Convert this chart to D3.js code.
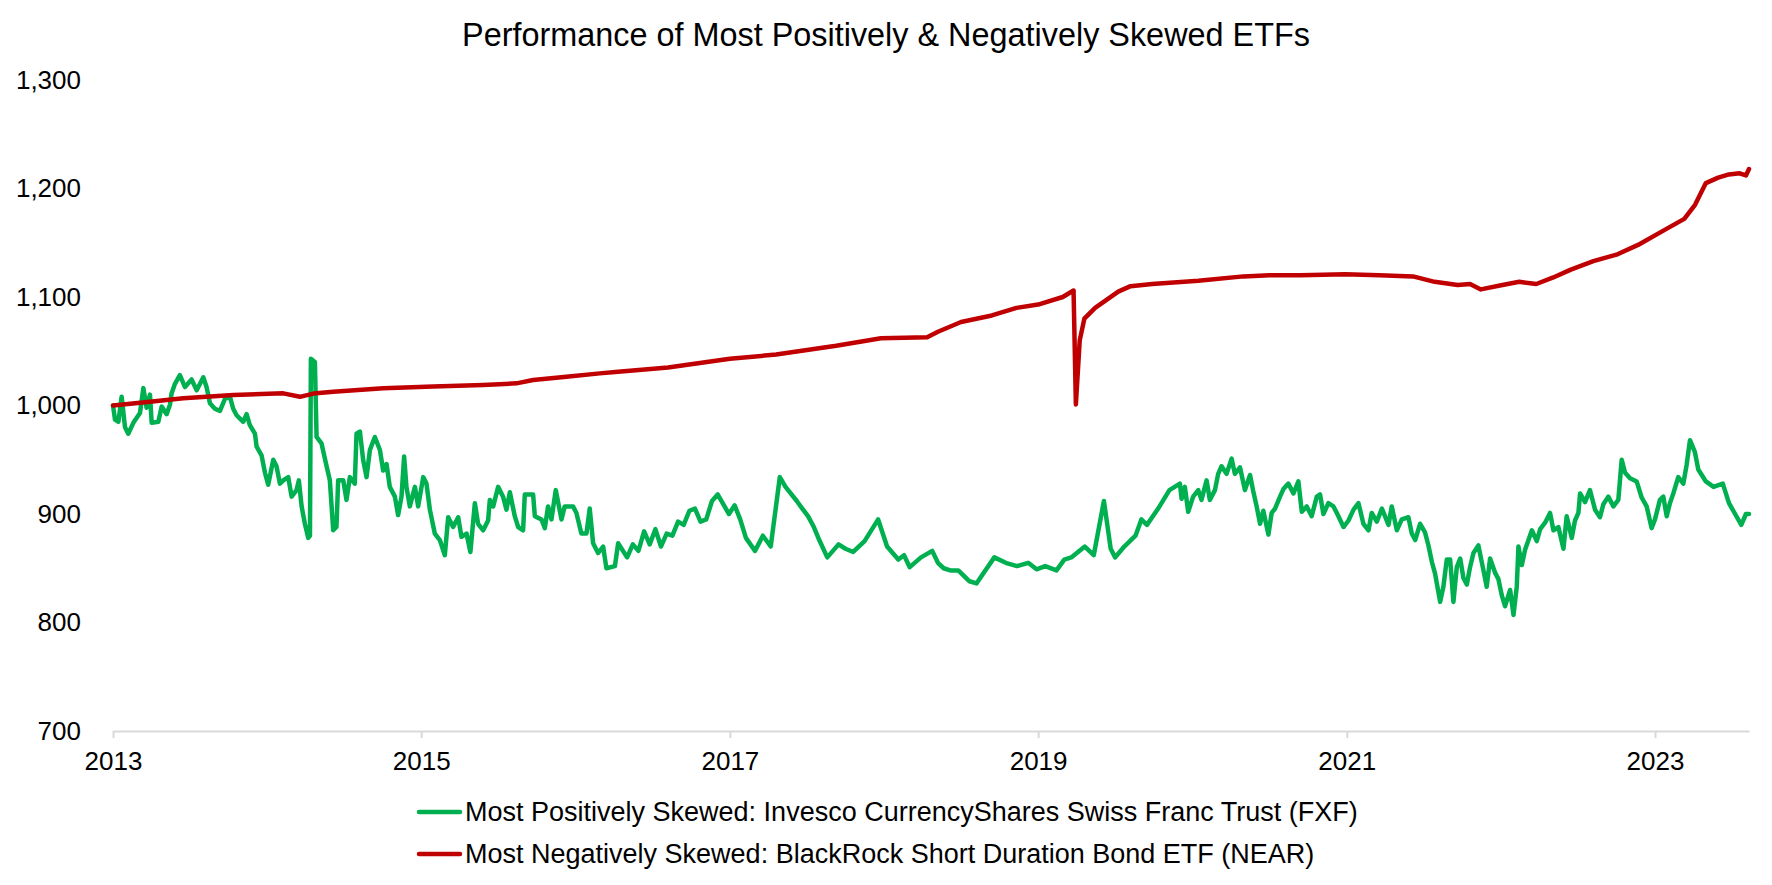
<!DOCTYPE html>
<html>
<head>
<meta charset="utf-8">
<script src="https://cdn.jsdelivr.net/npm/d3@7"></script>
<style>
  html, body { margin: 0; padding: 0; background: #fff; }
  svg { display: block; font-family: "Liberation Sans", Arial, sans-serif; }
</style>
</head>
<body>
<svg id="chart" width="1772" height="885"></svg>
<script>
// ---------- DATA ----------
const chartTitle = "Performance of Most Positively & Negatively Skewed ETFs";
const seriesNames = [
  "Most Positively Skewed: Invesco CurrencyShares Swiss Franc Trust (FXF)",
  "Most Negatively Skewed: BlackRock Short Duration Bond ETF (NEAR)"
];
const yTicks = [700, 800, 900, 1000, 1100, 1200, 1300];
const xTickYears = [2013, 2015, 2017, 2019, 2021, 2023];

// FXF: time in years since start of 2013, and value
const fxfTime = [
  0.000,0.013,0.035,0.056,0.078,0.099,0.132,0.175,0.197,0.218,0.240,0.251,0.294,0.316,0.348,0.370,0.380,0.402,0.434,0.467,
  0.510,0.543,0.586,0.607,0.629,0.661,0.694,0.726,0.759,0.780,0.802,0.845,0.867,0.888,0.921,0.932,0.964,0.986,1.007,1.040,
  1.061,1.083,1.105,1.137,1.159,1.191,1.206,1.224,1.245,1.267,1.278,1.284,1.310,1.321,1.353,1.386,1.407,1.429,1.450,1.461,
  1.494,1.515,1.537,1.569,1.580,1.602,1.623,1.645,1.667,1.699,1.732,1.753,1.775,1.796,1.829,1.850,1.872,1.889,1.904,1.926,
  1.959,1.980,2.013,2.034,2.056,2.088,2.121,2.153,2.175,2.207,2.240,2.261,2.294,2.319,2.348,2.369,2.402,2.434,2.445,2.467,
  2.499,2.531,2.553,2.575,2.607,2.629,2.661,2.672,2.726,2.737,2.780,2.802,2.823,2.845,2.873,2.910,2.931,2.985,3.007,3.039,
  3.072,3.093,3.115,3.147,3.180,3.201,3.256,3.277,
  3.335,3.372,3.408,3.445,3.481,3.518,3.554,3.591,3.628,3.665,3.701,3.738,3.774,3.810,3.847,3.884,3.921,3.994,4.031,4.067,
  4.104,4.163,4.214,4.265,4.324,4.361,4.434,4.470,4.507,4.545,4.580,4.632,4.705,4.750,4.800,4.874,4.962,5.020,5.093,5.130,
  5.167,5.240,5.313,5.350,5.387,5.430,5.482,5.555,5.600,5.643,5.716,5.790,5.863,5.936,5.990,6.046,6.119,6.170,6.215,6.303,
  6.361,6.427,6.471,6.500,6.559,6.632,6.670,6.706,6.779,6.852,
  6.920,6.931,6.952,6.974,7.006,7.039,7.060,7.093,7.114,7.147,7.168,7.190,7.222,7.255,7.276,7.309,7.341,7.374,7.395,7.417,
  7.439,7.460,7.493,7.514,7.536,7.568,7.590,7.622,7.655,7.687,7.709,7.741,7.773,7.806,7.827,7.849,7.881,7.914,7.946,7.979,
  8.011,8.044,8.076,8.108,8.141,8.162,8.195,8.228,8.271,8.292,8.325,8.357,8.400,8.422,8.444,8.476,8.508,8.530,8.552,8.573,
  8.606,8.627,8.649,8.671,8.692,8.714,8.736,8.757,8.779,8.800,8.822,8.854,8.887,8.908,8.930,8.962,8.984,9.006,9.027,9.060,
  9.082,9.103,9.114,9.136,9.157,9.179,9.201,9.233,9.255,9.287,9.319,9.341,9.373,9.406,9.427,9.460,9.481,9.503,9.514,9.546,
  9.578,9.611,9.643,9.665,9.697,9.730,9.762,9.784,9.806,9.838,9.881,9.914,9.946,9.978,10.000,10.032,10.054,10.076,10.097,10.119,
  10.151,10.184,10.205,10.227,10.259,10.281,10.33,10.38,10.44,10.48,10.52,10.56,10.59,10.61
];
const fxfValue = [
  1000,987,985,1008,980,974,984,993,1016,998,1010,984,985,999,992,1001,1011,1020,1028,1017,
  1024,1014,1026,1017,1002,997,995,1006,1008,997,991,985,992,982,974,962,954,938,927,950,
  944,928,931,934,916,922,931,907,891,878,880,1043,1040,971,965,944,931,885,888,931,
  931,913,934,928,974,976,950,934,959,971,959,940,946,925,916,899,916,953,925,907,
  925,907,934,928,904,882,876,862,897,888,897,879,882,865,910,891,885,894,913,907,
  925,916,904,920,898,888,885,918,918,898,895,887,907,895,922,895,907,907,901,882,
  882,905,873,864,870,850,852,873,
  860,872,866,884,872,886,870,882,880,893,890,903,905,893,895,912,918,900,908,895,
  878,866,880,870,934,925,912,905,898,888,876,860,872,868,865,875,895,870,858,862,
  851,860,866,855,850,848,848,838,836,845,860,855,852,855,849,852,848,858,860,870,
  862,912,868,860,870,880,895,890,905,922,
  928,914,925,902,916,922,913,931,913,922,937,944,937,951,937,943,922,936,921,907,
  891,903,881,901,905,916,923,928,919,930,902,907,898,916,918,900,910,907,898,888,
  894,904,910,891,885,901,893,905,890,907,885,895,897,882,876,891,883,871,856,845,
  819,833,858,858,819,851,859,841,835,851,864,871,848,833,859,846,840,825,815,830,
  807,833,870,853,867,876,885,875,886,892,901,885,888,868,898,878,894,901,919,911,
  922,904,897,909,916,907,913,950,938,933,930,915,907,887,895,913,916,898,910,919,
  934,928,945,968,957,941,930,925,928,910,900,890,900,900
];

// NEAR: time in years since start of 2013, and value
const nearTime = [
  0.000,0.240,0.456,0.780,1.105,1.213,1.300,1.429,1.753,2.077,2.402,2.618,2.726,2.942,3.158,3.277,
  3.600,4.000,4.300,4.690,4.980,5.280,5.350,5.500,5.700,5.860,6.000,6.160,6.230,6.245,6.270,6.300,
  6.370,6.520,6.600,6.740,7.040,7.330,7.500,7.700,7.990,8.210,8.430,8.570,8.720,8.800,8.870,9.010,
  9.120,9.230,9.340,9.450,9.600,9.750,9.890,10.040,10.190,10.260,10.330,10.410,10.480,10.550,10.590,10.610
];
const nearValue = [
  1000,1003.5,1006.6,1009.7,1011.2,1008,1011,1012.7,1015.8,1017.4,1018.9,1020.4,1023.5,1026.6,1029.6,1031,
  1035,1043,1047,1055,1062,1063,1068,1077,1083,1090,1093,1100,1106,1001,1060,1080,
  1090,1105,1110,1112,1115,1119,1120,1120,1121,1120,1119,1114,1111,1112,1107,1111,
  1114,1112,1118,1125,1133,1139,1148,1160,1172,1185,1205,1210,1213,1214,1212,1218
];

// ---------- HELPERS ----------
function toDate(t) {
  const yr = 2013 + Math.floor(t);
  const start = new Date(yr, 0, 1).getTime();
  const end = new Date(yr + 1, 0, 1).getTime();
  return new Date(start + (t - Math.floor(t)) * (end - start));
}

const fxf = fxfTime.map((t, i) => ({ date: toDate(t), value: fxfValue[i] }));
const near = nearTime.map((t, i) => ({ date: toDate(t), value: nearValue[i] }));

// ---------- CHART ----------
const svg = d3.select("#chart");
const plotLeft = 113, plotRight = 1749, plotTop = 80, plotBottom = 731;

const x = d3.scaleTime()
  .domain([new Date(2013, 0, 1), toDate(10.61)])
  .range([plotLeft, plotRight]);
const y = d3.scaleLinear()
  .domain([700, 1300])
  .range([plotBottom, plotTop]);

// title
svg.append("text")
  .attr("x", 886).attr("y", 46)
  .attr("text-anchor", "middle")
  .attr("font-size", "32.4px")
  .attr("fill", "#000")
  .text(chartTitle);

// y axis (labels only)
const yAxis = svg.append("g")
  .attr("transform", `translate(${plotLeft},0)`)
  .call(d3.axisLeft(y).tickValues(yTicks).tickFormat(d3.format(",")).tickSize(0).tickPadding(32));
yAxis.select(".domain").remove();
yAxis.selectAll("text").attr("font-size", "26px").attr("fill", "#000")
  .attr("font-family", "Liberation Sans, Arial, sans-serif");

// x axis
const xAxis = svg.append("g")
  .attr("transform", `translate(0,${plotBottom})`)
  .call(d3.axisBottom(x)
    .tickValues(xTickYears.map(yv => new Date(yv, 0, 1)))
    .tickFormat(d3.timeFormat("%Y"))
    .tickSize(7).tickSizeOuter(0).tickPadding(14));
xAxis.select(".domain").attr("stroke", "#d9d9d9").attr("stroke-width", 2);
xAxis.selectAll(".tick line").attr("stroke", "#d9d9d9").attr("stroke-width", 2);
xAxis.selectAll("text").attr("font-size", "26px").attr("fill", "#000")
  .attr("font-family", "Liberation Sans, Arial, sans-serif");

// lines
const line = d3.line().x(d => x(d.date)).y(d => y(d.value));
const colors = ["#00B050", "#C00000"];

svg.append("path").datum(fxf)
  .attr("fill", "none").attr("stroke", colors[0]).attr("stroke-width", 4.5)
  .attr("stroke-linejoin", "round").attr("stroke-linecap", "round")
  .attr("d", line);
svg.append("path").datum(near)
  .attr("fill", "none").attr("stroke", colors[1]).attr("stroke-width", 4.5)
  .attr("stroke-linejoin", "round").attr("stroke-linecap", "round")
  .attr("d", line);

// legend
const legend = svg.append("g");
seriesNames.forEach((name, i) => {
  const ly = 812 + i * 42;
  legend.append("line")
    .attr("x1", 419).attr("x2", 460).attr("y1", ly).attr("y2", ly)
    .attr("stroke", colors[i]).attr("stroke-width", 4.5).attr("stroke-linecap", "round");
  legend.append("text")
    .attr("x", 465).attr("y", ly).attr("dy", "0.35em")
    .attr("font-size", "27px").attr("fill", "#000")
    .text(name);
});
</script>
</body>
</html>
